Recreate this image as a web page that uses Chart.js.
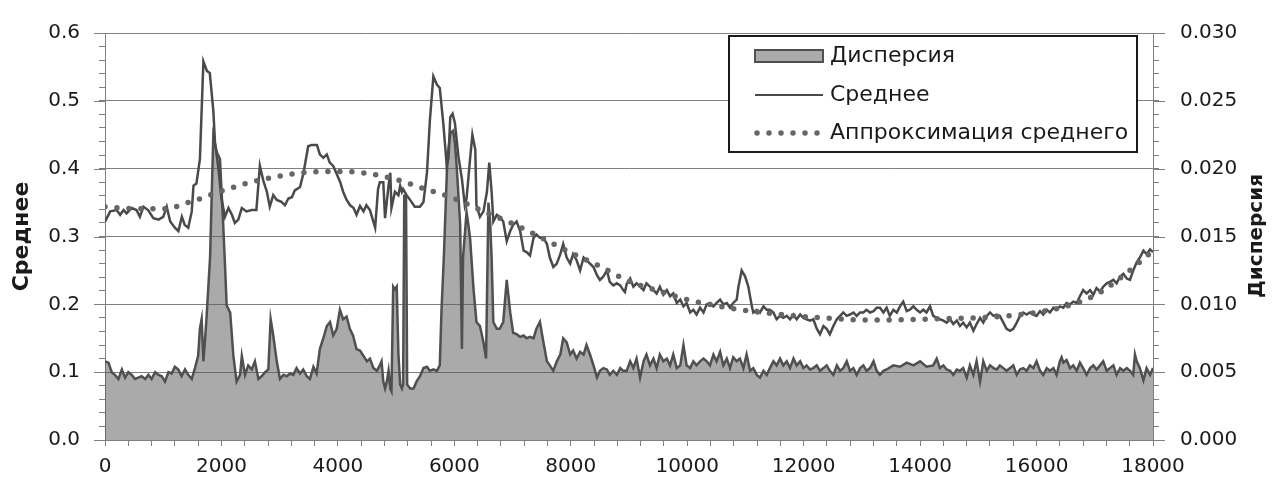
<!DOCTYPE html>
<html>
<head>
<meta charset="utf-8">
<script src="https://cdn.jsdelivr.net/npm/chart.js"></script>
<style>
  html, body { margin: 0; padding: 0; background: #ffffff; }
  #wrap { width: 1272px; height: 484px; position: relative; }
</style>
</head>
<body>
<div id="wrap"><canvas id="c" width="1272" height="484"></canvas></div>
<script>
// ---------- DATA ----------
const seriesLabels = ['Дисперсия', 'Среднее', 'Аппроксимация среднего'];
const axisTitleLeft = 'Среднее';
const axisTitleRight = 'Дисперсия';

const meanX = [0,90,200,260,320,370,460,540,600,660,740,830,920,1000,1060,1120,1200,1260,1320,1370,1430,1490,1520,1570,1630,1690,1750,1800,1860,1890,1950,2000,2060,2120,2180,2230,2290,2350,2430,2520,2600,2660,2720,2780,2830,2890,2950,3030,3090,3150,3210,3260,3350,3410,3490,3550,3640,3690,3750,3810,3860,3920,3980,4040,4090,4150,4210,4270,4320,4380,4440,4490,4550,4640,4690,4720,4780,4810,4870,4900,4920,4980,5040,5070,5100,5120,5180,5240,5320,5410,5470,5530,5580,5640,5700,5750,5810,5870,5900,5930,5970,6010,6070,6130,6180,6210,6270,6310,6360,6380,6440,6500,6560,6600,6640,6670,6730,6780,6840,6900,6960,7010,7070,7130,7190,7240,7300,7360,7410,7470,7530,7590,7640,7700,7760,7820,7870,7930,7990,8040,8100,8160,8220,8270,8330,8390,8450,8500,8560,8620,8670,8730,8790,8850,8900,8930,8960,9020,9075,9130,9190,9250,9300,9360,9420,9475,9530,9590,9650,9705,9760,9820,9880,9935,9990,10050,10105,10160,10220,10280,10335,10390,10450,10505,10565,10620,10680,10735,10790,10850,10880,10935,10995,11050,11110,11135,11195,11250,11310,11365,11420,11480,11535,11595,11650,11710,11765,11825,11880,11940,11995,12050,12110,12165,12225,12280,12340,12395,12450,12510,12570,12625,12680,12740,12795,12855,12910,12970,13025,13080,13140,13200,13255,13310,13370,13425,13480,13540,13600,13655,13710,13770,13825,13885,13940,14000,14055,14110,14170,14225,14285,14340,14400,14455,14515,14570,14630,14685,14740,14800,14855,14915,14970,15030,15085,15145,15200,15260,15315,15370,15430,15485,15545,15600,15660,15715,15770,15830,15885,15945,16000,16060,16115,16175,16230,16290,16345,16400,16460,16515,16575,16630,16690,16745,16800,16860,16920,16975,17030,17090,17145,17205,17260,17320,17375,17435,17490,17550,17605,17660,17720,17775,17835,17890,17950,18000];
const meanY = [0.322,0.337,0.339,0.332,0.339,0.334,0.342,0.339,0.329,0.344,0.339,0.327,0.325,0.329,0.344,0.322,0.313,0.308,0.329,0.317,0.313,0.337,0.375,0.378,0.414,0.558,0.544,0.541,0.486,0.438,0.399,0.356,0.329,0.342,0.332,0.320,0.325,0.342,0.337,0.339,0.339,0.404,0.382,0.366,0.344,0.361,0.354,0.351,0.346,0.356,0.358,0.368,0.373,0.394,0.433,0.435,0.435,0.421,0.416,0.421,0.409,0.404,0.392,0.380,0.366,0.354,0.346,0.342,0.332,0.345,0.337,0.346,0.339,0.313,0.370,0.380,0.380,0.327,0.375,0.394,0.342,0.366,0.361,0.375,0.366,0.370,0.361,0.354,0.344,0.344,0.351,0.394,0.471,0.536,0.524,0.519,0.467,0.404,0.416,0.476,0.481,0.467,0.418,0.385,0.346,0.356,0.414,0.450,0.428,0.346,0.329,0.337,0.366,0.409,0.366,0.322,0.332,0.329,0.322,0.293,0.308,0.317,0.322,0.308,0.279,0.277,0.272,0.298,0.303,0.298,0.298,0.289,0.269,0.255,0.260,0.274,0.289,0.269,0.260,0.274,0.265,0.250,0.269,0.265,0.260,0.255,0.243,0.236,0.241,0.250,0.233,0.228,0.231,0.228,0.221,0.218,0.230,0.238,0.226,0.231,0.226,0.221,0.231,0.226,0.221,0.216,0.226,0.214,0.221,0.212,0.216,0.202,0.207,0.197,0.202,0.188,0.192,0.185,0.195,0.188,0.200,0.202,0.197,0.202,0.207,0.200,0.202,0.195,0.202,0.207,0.226,0.250,0.241,0.226,0.197,0.188,0.192,0.188,0.197,0.192,0.192,0.188,0.178,0.183,0.180,0.183,0.178,0.185,0.178,0.185,0.180,0.178,0.176,0.178,0.164,0.156,0.168,0.164,0.156,0.168,0.178,0.183,0.188,0.183,0.185,0.188,0.183,0.188,0.188,0.192,0.188,0.190,0.195,0.195,0.188,0.195,0.183,0.192,0.188,0.197,0.204,0.190,0.192,0.197,0.192,0.188,0.192,0.188,0.197,0.183,0.180,0.178,0.176,0.173,0.178,0.171,0.176,0.168,0.173,0.166,0.173,0.161,0.171,0.180,0.173,0.183,0.188,0.183,0.185,0.183,0.173,0.164,0.161,0.164,0.173,0.183,0.188,0.185,0.188,0.185,0.183,0.190,0.185,0.192,0.188,0.195,0.192,0.197,0.195,0.202,0.200,0.204,0.202,0.212,0.221,0.216,0.221,0.214,0.224,0.219,0.226,0.231,0.233,0.236,0.231,0.241,0.245,0.238,0.236,0.250,0.262,0.269,0.279,0.274,0.281,0.277];

const dispX = [0,60,115,170,230,290,345,400,460,515,570,630,690,745,800,860,920,975,1030,1090,1145,1200,1260,1315,1375,1430,1490,1545,1600,1630,1660,1690,1720,1745,1805,1860,1920,1975,2030,2060,2090,2150,2205,2260,2320,2350,2405,2460,2520,2575,2635,2690,2750,2805,2845,2890,2950,3005,3065,3120,3180,3235,3290,3350,3405,3465,3520,3580,3635,3690,3750,3810,3865,3920,3980,4035,4090,4150,4205,4260,4320,4380,4440,4500,4550,4610,4670,4720,4750,4780,4810,4840,4870,4900,4920,4950,4980,5010,5040,5070,5100,5120,5140,5170,5190,5240,5300,5350,5410,5470,5530,5580,5640,5700,5750,5780,5820,5880,5930,5980,6010,6040,6100,6130,6150,6210,6240,6270,6330,6380,6440,6500,6545,6585,6615,6640,6670,6730,6780,6840,6900,6960,7010,7070,7130,7190,7240,7300,7360,7410,7470,7530,7590,7640,7700,7760,7820,7870,7930,7990,8040,8100,8160,8220,8270,8330,8390,8450,8500,8560,8620,8670,8730,8790,8850,8900,8960,9020,9075,9130,9190,9250,9300,9360,9420,9475,9530,9590,9650,9705,9760,9820,9880,9935,9990,10050,10105,10160,10220,10280,10335,10390,10450,10505,10565,10620,10680,10735,10790,10850,10905,10965,11020,11080,11135,11195,11250,11310,11365,11420,11480,11535,11595,11650,11710,11765,11825,11880,11940,11995,12050,12110,12165,12225,12280,12340,12395,12450,12510,12570,12625,12680,12740,12795,12855,12910,12970,13025,13080,13140,13200,13255,13310,13370,13425,13540,13655,13770,13885,14000,14110,14225,14285,14340,14400,14455,14515,14570,14630,14685,14740,14800,14855,14915,14970,15030,15085,15145,15200,15260,15315,15370,15430,15485,15545,15600,15660,15715,15770,15830,15885,15945,16000,16060,16115,16175,16230,16290,16345,16400,16430,16460,16515,16575,16630,16690,16745,16800,16860,16920,16975,17030,17090,17145,17205,17260,17320,17375,17435,17490,17550,17605,17660,17690,17720,17775,17835,17890,17950,18000];
const dispY = [0.0058,0.0057,0.0050,0.0048,0.0045,0.0052,0.0046,0.0050,0.0048,0.0045,0.0046,0.0047,0.0045,0.0048,0.0045,0.0050,0.0048,0.0047,0.0043,0.0050,0.0049,0.0054,0.0052,0.0047,0.0052,0.0048,0.0045,0.0053,0.0062,0.0082,0.0089,0.0058,0.0075,0.0091,0.0135,0.0224,0.0212,0.0207,0.0159,0.0130,0.0099,0.0094,0.0062,0.0043,0.0048,0.0062,0.0048,0.0055,0.0052,0.0058,0.0045,0.0047,0.0050,0.0052,0.0089,0.0077,0.0058,0.0045,0.0048,0.0047,0.0049,0.0048,0.0053,0.0049,0.0052,0.0047,0.0045,0.0054,0.0049,0.0067,0.0075,0.0084,0.0087,0.0077,0.0082,0.0096,0.0089,0.0091,0.0082,0.0077,0.0067,0.0066,0.0062,0.0058,0.0060,0.0053,0.0051,0.0055,0.0058,0.0043,0.0038,0.0043,0.0051,0.0038,0.0036,0.0113,0.0111,0.0113,0.0063,0.0041,0.0038,0.0041,0.0180,0.0180,0.0041,0.0038,0.0038,0.0043,0.0047,0.0053,0.0054,0.0051,0.0052,0.0051,0.0055,0.0096,0.0135,0.0207,0.0226,0.0228,0.0219,0.0202,0.0159,0.0067,0.0135,0.0168,0.0159,0.0149,0.0111,0.0087,0.0084,0.0072,0.0060,0.0175,0.0160,0.0135,0.0087,0.0082,0.0082,0.0087,0.0118,0.0094,0.0079,0.0078,0.0076,0.0077,0.0075,0.0076,0.0075,0.0082,0.0087,0.0072,0.0058,0.0055,0.0051,0.0058,0.0063,0.0075,0.0072,0.0063,0.0066,0.0060,0.0065,0.0063,0.0070,0.0063,0.0055,0.0046,0.0051,0.0053,0.0052,0.0048,0.0051,0.0048,0.0053,0.0051,0.0051,0.0058,0.0053,0.0060,0.0046,0.0058,0.0063,0.0055,0.0060,0.0053,0.0063,0.0058,0.0060,0.0055,0.0063,0.0053,0.0055,0.0070,0.0055,0.0053,0.0058,0.0055,0.0058,0.0060,0.0058,0.0055,0.0063,0.0058,0.0065,0.0055,0.0060,0.0053,0.0061,0.0058,0.0060,0.0053,0.0063,0.0051,0.0053,0.0048,0.0046,0.0051,0.0048,0.0053,0.0058,0.0055,0.0060,0.0055,0.0058,0.0053,0.0060,0.0055,0.0058,0.0053,0.0055,0.0052,0.0053,0.0055,0.0051,0.0053,0.0055,0.0051,0.0048,0.0055,0.0051,0.0053,0.0058,0.0051,0.0053,0.0048,0.0053,0.0055,0.0051,0.0053,0.0058,0.0051,0.0048,0.0051,0.0052,0.0055,0.0054,0.0057,0.0055,0.0058,0.0054,0.0055,0.0060,0.0053,0.0055,0.0052,0.0051,0.0048,0.0052,0.0051,0.0053,0.0046,0.0055,0.0048,0.0058,0.0043,0.0058,0.0051,0.0055,0.0053,0.0052,0.0055,0.0053,0.0051,0.0053,0.0055,0.0048,0.0052,0.0053,0.0051,0.0055,0.0053,0.0058,0.0051,0.0048,0.0053,0.0051,0.0053,0.0048,0.0058,0.0061,0.0057,0.0059,0.0053,0.0055,0.0051,0.0057,0.0053,0.0048,0.0053,0.0055,0.0052,0.0055,0.0058,0.0051,0.0053,0.0055,0.0048,0.0053,0.0051,0.0053,0.0051,0.0048,0.0063,0.0058,0.0053,0.0044,0.0053,0.0048,0.0053];

const approxX = [0,500,1000,1500,2000,2500,3000,3500,4000,4500,5000,5500,6000,6500,7000,7500,8000,8500,9000,9500,10000,10500,11000,11500,12000,12500,13000,13500,14000,14500,15000,15500,16000,16500,17000,17500,18000];
const approxY = [0.344,0.341,0.341,0.352,0.367,0.380,0.389,0.395,0.396,0.393,0.384,0.370,0.356,0.337,0.319,0.298,0.276,0.256,0.234,0.220,0.207,0.198,0.191,0.186,0.182,0.179,0.177,0.177,0.178,0.179,0.180,0.183,0.188,0.197,0.213,0.243,0.279];

const xTickLabels = [0,2000,4000,6000,8000,10000,12000,14000,16000,18000];
const leftTickLabels = ['0.0','0.1','0.2','0.3','0.4','0.5','0.6'];
const rightTickLabels = ['0.000','0.005','0.010','0.015','0.020','0.025','0.030'];

// ---------- STYLE ----------
const FONT = "'DejaVu Sans', 'Open Sans', sans-serif";
const TXT = '#1a1a1a';
const GRID = '#808080';

const pts = (xs, ys) => xs.map((x, i) => ({x: x, y: ys[i]}));
const isMult = (v, s) => Math.abs(v / s - Math.round(v / s)) < 1e-6;

const extras = {
  id: 'extras',
  beforeDraw(chart) {
    const ctx = chart.ctx;
    ctx.save();
    ctx.fillStyle = '#ffffff';
    ctx.fillRect(0, 0, chart.width, chart.height);
    ctx.restore();
  },
  afterDraw(chart) {
    const ctx = chart.ctx;
    const y = chart.scales.y, y1 = chart.scales.y1;
    ctx.save();
    // longer major tick marks
    ctx.strokeStyle = GRID;
    ctx.lineWidth = 1;
    leftTickLabels.forEach(t => {
      const py = Math.round(y.getPixelForValue(parseFloat(t))) + 0.5;
      ctx.beginPath(); ctx.moveTo(y.right - 11, py); ctx.lineTo(y.right, py); ctx.stroke();
    });
    rightTickLabels.forEach(t => {
      const py = Math.round(y1.getPixelForValue(parseFloat(t))) + 0.5;
      ctx.beginPath(); ctx.moveTo(y1.left, py); ctx.lineTo(y1.left + 12, py); ctx.stroke();
    });
    // right axis title (reads bottom-to-top)
    ctx.save();
    ctx.translate(1257, 236);
    ctx.rotate(-Math.PI / 2);
    ctx.font = 'bold 20px ' + FONT;
    ctx.fillStyle = TXT;
    ctx.textAlign = 'center';
    ctx.textBaseline = 'middle';
    ctx.fillText(axisTitleRight, 0, 0);
    ctx.restore();
    // legend box
    const bx = 729, by = 36, bw = 408, bh = 116;
    ctx.fillStyle = '#ffffff';
    ctx.fillRect(bx, by, bw, bh);
    ctx.strokeStyle = '#1a1a1a';
    ctx.lineWidth = 2;
    ctx.strokeRect(bx, by, bw, bh);
    const ds = chart.data.datasets;
    const rows = [56, 95, 133];
    const sx0 = 755, sx1 = 823, tx = 830;
    ctx.font = '22px ' + FONT;
    ctx.textAlign = 'left';
    ctx.textBaseline = 'middle';
    ds.forEach((d, i) => {
      const ry = rows[i];
      if (d.fill) {
        ctx.fillStyle = '#aaaaaa';
        ctx.fillRect(sx0, ry - 6, sx1 - sx0, 12);
        ctx.strokeStyle = d.borderColor;
        ctx.lineWidth = 2;
        ctx.strokeRect(sx0, ry - 6, sx1 - sx0, 12);
      } else {
        ctx.strokeStyle = d.borderColor;
        ctx.lineWidth = d.borderDash ? d.borderWidth : 2;
        ctx.lineCap = d.borderDash ? 'round' : 'butt';
        ctx.setLineDash(d.borderDash || []);
        ctx.beginPath(); ctx.moveTo(sx0 + (d.borderDash ? 2 : 0), ry); ctx.lineTo(sx1, ry); ctx.stroke();
        ctx.setLineDash([]);
      }
      ctx.fillStyle = TXT;
      ctx.fillText(d.label, tx, ry);
    });
    ctx.restore();
  }
};

new Chart(document.getElementById('c'), {
  type: 'line',
  data: {
    datasets: [
      {
        label: seriesLabels[0],
        data: pts(dispX, dispY),
        yAxisID: 'y1',
        borderColor: '#505050',
        borderWidth: 2.5,
        backgroundColor: 'rgba(85,85,85,0.5)',
        fill: 'origin',
        pointRadius: 0,
        tension: 0,
        order: 3
      },
      {
        label: seriesLabels[1],
        data: pts(meanX, meanY),
        yAxisID: 'y',
        borderColor: '#4a4a4a',
        borderWidth: 2.5,
        fill: false,
        pointRadius: 0,
        tension: 0,
        order: 2
      },
      {
        label: seriesLabels[2],
        data: pts(approxX, approxY),
        yAxisID: 'y',
        borderColor: '#666666',
        borderWidth: 5.5,
        borderDash: [0, 12],
        borderCapStyle: 'round',
        fill: false,
        pointRadius: 0,
        tension: 0.4,
        cubicInterpolationMode: 'monotone',
        order: 1
      }
    ]
  },
  options: {
    responsive: false,
    animation: false,
    devicePixelRatio: 1,
    layout: { padding: { top: 24, left: 0, right: 0, bottom: 0 } },
    plugins: { legend: { display: false }, tooltip: { enabled: false } },
    scales: {
      x: {
        type: 'linear',
        min: 0, max: 18000,
        afterFit: s => { s.height = 44; },
        grid: { drawOnChartArea: false, drawTicks: true, tickLength: 6, color: GRID },
        border: { display: true, color: GRID, width: 1 },
        ticks: {
          stepSize: 400,
          autoSkip: false,
          maxRotation: 0,
          padding: 9,
          color: TXT,
          font: { family: FONT, size: 20 },
          callback: v => xTickLabels.includes(v) ? String(v) : ''
        }
      },
      y: {
        position: 'left',
        min: 0, max: 0.6,
        afterFit: s => { s.width = 105; },
        grid: {
          drawTicks: true, tickLength: 6,
          color: c => isMult(c.tick.value, 0.1) ? GRID : 'rgba(0,0,0,0)',
          tickColor: GRID
        },
        border: { display: true, color: GRID, width: 1 },
        ticks: {
          stepSize: 0.02,
          autoSkip: false,
          padding: 19,
          color: TXT,
          font: { family: FONT, size: 20 },
          callback: v => isMult(v, 0.1) ? leftTickLabels[Math.round(v * 10)] : ''
        },
        title: {
          display: true,
          text: axisTitleLeft,
          color: TXT,
          font: { family: FONT, size: 22, weight: 'bold' },
          padding: { top: 9, bottom: 0 }
        }
      },
      y1: {
        position: 'right',
        min: 0, max: 0.03,
        afterFit: s => { s.width = 119; },
        grid: { drawOnChartArea: false, drawTicks: true, tickLength: 6, tickColor: GRID },
        border: { display: true, color: GRID, width: 1 },
        ticks: {
          stepSize: 0.001,
          autoSkip: false,
          padding: 21,
          color: TXT,
          font: { family: FONT, size: 20 },
          callback: v => isMult(v, 0.005) ? rightTickLabels[Math.round(v / 0.005)] : ''
        }
      }
    }
  },
  plugins: [extras]
});
</script>
</body>
</html>
